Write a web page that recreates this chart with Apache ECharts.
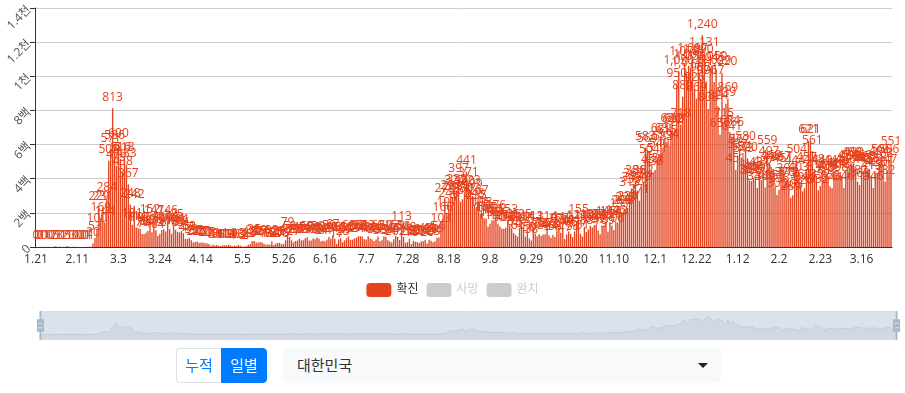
<!DOCTYPE html>
<html>
<head>
<meta charset="utf-8">
<title>코로나19 일별 확진자</title>
<script src="https://cdn.jsdelivr.net/npm/echarts/dist/echarts.min.js"></script>
<style>
body{margin:0;background:#fff;font-family:"Open Sans","Noto Sans CJK KR",sans-serif;}
#wrap{position:relative;width:905px;height:393px;}
#chart{width:905px;height:393px;}
.btn-group{position:absolute;left:176px;top:348px;height:35px;display:flex;}
.btn{box-sizing:border-box;height:35px;line-height:33px;font-size:15px;text-align:center;}
.btn.off{width:45px;border:1px solid #dee2e6;border-right:none;border-radius:4px 0 0 4px;color:#007bff;background:#fff;}
.btn.on{width:46px;border:1px solid #007bff;border-radius:0 4px 4px 0;color:#fff;background:#007bff;}
.select{position:absolute;left:283px;top:348px;width:438px;height:35px;box-sizing:border-box;background:#f8f9fa;border-radius:4px;
  padding-left:14px;line-height:35px;font-size:15px;color:#333;}
.caret{position:absolute;right:13px;top:15px;width:0;height:0;border-left:5px solid transparent;border-right:5px solid transparent;border-top:5px solid #222;}
</style>
</head>
<body>
<div id="wrap">
  <div id="chart"></div>
  <div class="btn-group"><div class="btn off">누적</div><div class="btn on">일별</div></div>
  <div class="select">대한민국<span class="caret"></span></div>
</div>
<script>
// 일별 확진자 (2020.1.21 ~ 2021.3.31)
var jan20 = [0,0,0,1,0,1,1,0,0,2,5];
var feb20 = [1,3,0,1,2,5,1,0,3,0,1,0,0,0,0,1,1,1,20,53,100,229,169,231,144,284,505,571,813];
var mar20 = [586,476,600,516,438,518,483,367,248,131,242,114,110,107,76,74,84,93,152,87,147,98,64,76,100,104,91,146,105,78,125];
var apr20 = [101,89,86,94,81,47,47,53,39,27,30,32,25,27,27,22,22,18,8,13,9,11,8,6,10,10,10,14,9,4];
var may20 = [9,6,13,8,3,2,4,12,18,34,35,27,26,29,27,19,13,15,13,32,12,20,23,25,16,19,40,79,58,39,27];
var jun20 = [35,38,49,39,39,51,57,38,38,50,45,56,48,34,37,34,43,59,49,67,48,17,46,51,28,39,51,62,42,43];
var jul20 = [50,54,63,63,61,46,44,63,50,45,35,44,62,33,39,61,60,39,34,26,45,63,59,41,113,58,25,28,48,18,36];
var aug20 = [31,30,23,34,33,43,20,43,36,28,34,54,56,103,166,279,197,246,297,288,324,332,397,266,280,320,441,371,323,299,248];
var sep20 = [235,267,195,198,168,167,119,136,156,155,176,136,121,109,106,113,153,126,110,82,70,61,110,125,114,61,95,50,38,113];
var oct20 = [77,63,75,64,73,75,114,69,54,72,58,97,102,84,110,47,73,91,76,58,91,121,155,77,61,119,88,103,125,114,127];
var nov20 = [124,97,75,118,125,145,89,143,126,100,146,143,191,205,208,223,230,313,343,363,386,330,271,349,382,583,569,504,450,438];
var dec20 = [451,511,540,629,583,631,615,594,686,682,689,950,1030,718,880,1078,1014,1062,1053,1097,926,869,1090,985,1240,1131,970,808,1045,1050,967];
var jan21 = [1029,824,657,1020,715,839,869,674,641,665,451,537,562,524,513,580,520,389,386,404,400,346,431,392,437,349,559,497,469,458,355];
var feb21 = [305,336,467,451,370,393,372,289,303,444,504,403,362,326,344,457,621,621,561,448,416,332,357,440,396,406,415,355];
var mar21 = [344,444,424,398,418,416,346,446,470,465,488,490,459,382,363,469,445,463,452,456,415,346,428,430,494,505,482,382,447,506,551];

var confirmed = [].concat(jan20, feb20, mar20, apr20, may20, jun20, jul20, aug20, sep20, oct20, nov20, dec20, jan21, feb21, mar21);
var deaths = [];     // 범례에서 꺼져 있음
var recovered = [];  // 범례에서 꺼져 있음

var dates = [];
for (var i = 0; i < confirmed.length; i++) {
    var d = new Date(2020, 0, 21 + i);
    dates.push((d.getMonth() + 1) + '.' + d.getDate());
}
var yTickLabels = ['0', '2백', '4백', '6백', '8백', '1천', '1.2천', '1.4천'];

var red = '#e5431e';
var font = '"Open Sans", "Noto Sans CJK KR", sans-serif';

var myChart = echarts.init(document.getElementById('chart'));
var option = {
    animation: false,
    textStyle: {fontFamily: font},
    grid: {left: 35, right: 13, top: 8, bottom: 146},
    legend: {
        top: 278,
        left: 'center',
        itemWidth: 25,
        itemHeight: 14,
        inactiveColor: '#ccc',
        textStyle: {color: '#333', fontSize: 12, fontFamily: font},
        data: ['확진', '사망', '완치'],
        selected: {'확진': true, '사망': false, '완치': false}
    },
    xAxis: {
        type: 'category',
        data: dates,
        axisLine: {lineStyle: {color: '#333'}},
        axisTick: {interval: 20},
        axisLabel: {interval: 20, color: '#333', fontSize: 12, margin: 7}
    },
    yAxis: {
        type: 'value',
        min: 0,
        max: 1400,
        interval: 200,
        axisLine: {show: true, lineStyle: {color: '#333'}},
        axisTick: {show: true},
        splitLine: {lineStyle: {color: '#ccc'}},
        axisLabel: {
            rotate: 45,
            color: '#555',
            fontSize: 12,
            margin: 6,
            formatter: function (v) { return yTickLabels[Math.round(v / 200)]; }
        }
    },
    dataZoom: [{
        type: 'slider',
        xAxisIndex: 0,
        left: 37,
        right: 10,
        top: 311,
        height: 29,
        start: 0,
        end: 100,
        showDetail: false,
        brushSelect: false,
        moveHandleSize: 0,
        backgroundColor: 'rgba(47,69,84,0)',
        borderColor: '#ddd',
        fillerColor: 'rgba(167,183,204,0.4)',
        handleIcon: 'M8.2,13.6V3.9H6.3v9.7H3.1v14.9h3.3v9.7h1.8v-9.7h3.3V13.6H8.2z M9.7,24.4H4.8v-1.4h4.9V24.4z M9.7,19.1H4.8v-1.4h4.9V19.1z',
        handleSize: '100%',
        handleStyle: {color: '#a7b7cc', borderWidth: 0},
        dataBackground: {
            lineStyle: {color: '#2f4554', width: 0.5, opacity: 0.3},
            areaStyle: {color: 'rgba(47,69,84,0.3)', opacity: 0.3}
        },
        selectedDataBackground: {
            lineStyle: {color: '#2f4554', width: 0.5, opacity: 0.3},
            areaStyle: {color: 'rgba(47,69,84,0.3)', opacity: 0.3}
        }
    }],
    series: [
        {
            name: '확진',
            type: 'bar',
            data: confirmed,
            itemStyle: {color: red},
            label: {
                show: true,
                position: 'top',
                color: red,
                fontSize: 12,
                fontFamily: font,
                formatter: function (p) { return p.value.toLocaleString('en-US'); }
            }
        },
        {name: '사망', type: 'bar', data: deaths, itemStyle: {color: '#555'}},
        {name: '완치', type: 'bar', data: recovered, itemStyle: {color: '#3a8'}}
    ]
};
myChart.setOption(option);
window.onresize = function () {
    myChart.resize();
};
</script>
</body>
</html>
